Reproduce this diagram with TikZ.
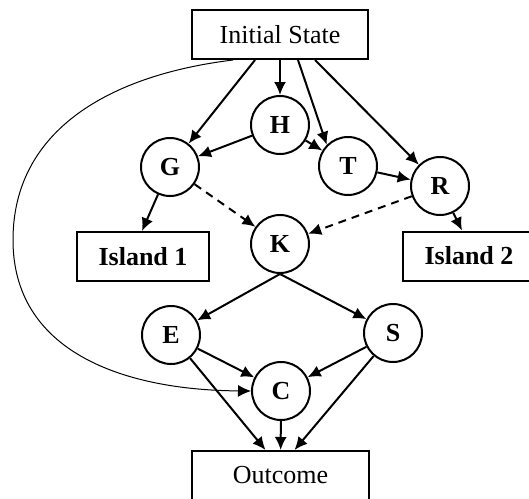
\documentclass[tikz,border=0pt]{standalone}
\usepackage{fontspec}
\setmainfont{Liberation Serif}
\usetikzlibrary{arrows.meta}
\begin{document}
\begin{tikzpicture}[x=1pt,y=-1pt,
  every node/.style={font=\fontsize{26}{30}\selectfont},
  box/.style={draw,line width=2pt,rectangle,inner sep=0pt},
  var/.style={draw,line width=2pt,circle,minimum size=58pt,inner sep=0pt,font=\fontsize{26}{30}\selectfont\bfseries},
  arr/.style={line width=2pt,-{Latex[length=13pt,width=12pt]}},
  darr/.style={arr,dash pattern=on 8pt off 6pt}]
\useasboundingbox (0,0) rectangle (529,498);
\clip (0,0) rectangle (529,498);
\node[box,minimum width=176pt,minimum height=49pt] (init) at (280,34.5) {Initial State};
\node[var] (H) at (280,125) {H};
\node[var] (G) at (170,167) {G};
\node[var] (T) at (348,166) {T};
\node[var] (R) at (440,186) {R};
\node[var] (K) at (280,244) {K};
\node[box,minimum width=132pt,minimum height=49pt,font=\fontsize{26}{30}\selectfont\bfseries] (I1) at (143,256.5) {Island 1};
\node[box,minimum width=132pt,minimum height=49pt,font=\fontsize{26}{30}\selectfont\bfseries] (I2) at (469,256) {Island 2};
\node[var] (E) at (171,335) {E};
\node[var] (S) at (393,333) {S};
\node[var] (C) at (281,391) {C};
\node[box,minimum width=177pt,minimum height=49pt] (out) at (280.5,475.5) {Outcome};
\draw[arr] ([xshift=-25pt]init.south) -- (G);
\draw[arr] (init.south) -- (H);
\draw[arr] ([xshift=18pt]init.south) -- (T.north west) ;
\draw[arr] ([xshift=35pt]init.south) -- (R);
\draw[arr] (H) -- (G);
\draw[arr] (H) -- (T);
\draw[arr] (T) -- (R);
\draw[arr] (G) -- ([xshift=-1pt]I1.north);
\draw[darr] (G) -- (K);
\draw[darr] (R) -- (K);
\draw[arr] (R) -- ([xshift=-7pt]I2.north);
\draw[arr] (K.south) -- (E);
\draw[arr] (K.south) -- (S);
\draw[arr] (E) -- (C);
\draw[arr] (S) -- (C);
\draw[arr] (E) -- ([xshift=-15pt]out.north);
\draw[arr] (C) -- (out);
\draw[arr] (S) -- ([xshift=14pt]out.north);
\coordinate (cs) at ([xshift=-47pt]init.south);
\coordinate (cl) at (13,240);
\draw[line width=1pt,-{Latex[length=13pt,width=12pt]}] (cs) .. controls (110,75) and (13,130) .. (cl) .. controls (13,350) and (120,390) .. (C.west);
\end{tikzpicture}
\end{document}
